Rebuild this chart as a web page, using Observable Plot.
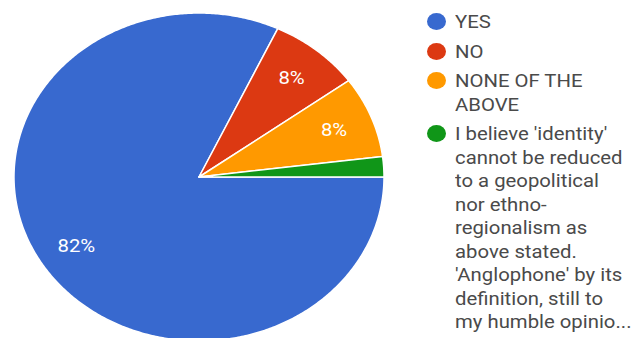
<!DOCTYPE html>
<html>
<head>
<meta charset="utf-8">
<script src="https://cdn.jsdelivr.net/npm/d3@7"></script>
<script src="https://cdn.jsdelivr.net/npm/@observablehq/plot@0.6"></script>
<style>
  html, body { margin: 0; padding: 0; background: #fff; }
  #chart { position: relative; width: 634px; height: 338px; overflow: hidden; }
  #chart svg { position: absolute; left: 0; top: 0; }
  #legend { position: absolute; left: 455px; top: 10.4px; font-family: Roboto, sans-serif; font-size: 18px; color: #4a4a4a; }
  .item { position: relative; line-height: 23.5px; margin-bottom: 6px; }
  .item .txt { display: block; white-space: pre; transform: scaleX(1.128); transform-origin: 0 0; }
  .item .sw { position: absolute; left: -28.5px; top: 2.9px; width: 19px; height: 17px; border-radius: 50%; }
</style>
</head>
<body>
<div id="chart"><div id="legend"></div></div>
<script>
const answers = [
  "YES",
  "NO",
  "NONE OF THE\nABOVE",
  "I believe 'identity'\ncannot be reduced\nto a geopolitical\nnor ethno-\nregionalism as\nabove stated.\n'Anglophone' by its\ndefinition, still to\nmy humble opinio..."
];
const responses = [41, 4, 4, 1];
const colors = ["#3869cf", "#dc3912", "#ff9900", "#109618"];

const total = d3.sum(responses);
const slices = d3.pie().sort(null).value(d => d)
  .startAngle(Math.PI / 2).endAngle(Math.PI / 2 + 2 * Math.PI)(responses);

function pieMark(index, scales) {
  const x = scales.x, y = scales.y;
  const g = d3.create("svg:g");
  slices.forEach((s, i) => {
    const n = Math.max(2, Math.ceil((s.endAngle - s.startAngle) / 0.01));
    const pts = [[x(0), y(0)]];
    for (let k = 0; k <= n; k++) {
      const a = s.startAngle + (s.endAngle - s.startAngle) * k / n;
      pts.push([x(Math.sin(a)), y(Math.cos(a))]);
    }
    g.append("path")
      .attr("d", "M" + pts.map(p => p[0].toFixed(2) + "," + p[1].toFixed(2)).join("L") + "Z")
      .attr("fill", colors[i])
      .attr("stroke", "#fff")
      .attr("stroke-width", 1.5)
      .attr("stroke-linejoin", "round");
  });
  slices.forEach((s, i) => {
    const pct = s.value / total;
    if (pct < 0.05) return;
    const a = (s.startAngle + s.endAngle) / 2;
    const r = 0.785;
    const tx = x(r * Math.sin(a)), ty = y(r * Math.cos(a));
    g.append("text")
      .attr("transform", `translate(${tx},${ty}) scale(1.128,1)`)
      .attr("text-anchor", "middle")
      .attr("dy", "0.35em")
      .attr("fill", "#fff")
      .attr("font-family", "Roboto, sans-serif")
      .attr("font-size", 18)
      .text(Math.round(pct * 100) + "%");
  });
  return g.node();
}

const plot = Plot.plot({
  width: 634,
  height: 338,
  margin: 0,
  style: { background: "transparent", overflow: "hidden" },
  x: { domain: [-1, 1], range: [14, 384], axis: null },
  y: { domain: [-1, 1], range: [341, 13], axis: null },
  marks: [pieMark]
});
document.getElementById("chart").prepend(plot);

const legend = d3.select("#legend");
answers.forEach((label, i) => {
  const item = legend.append("div").attr("class", "item");
  item.append("span").attr("class", "sw").style("background", colors[i]);
  item.append("span").attr("class", "txt").text(label);
});
</script>
</body>
</html>
